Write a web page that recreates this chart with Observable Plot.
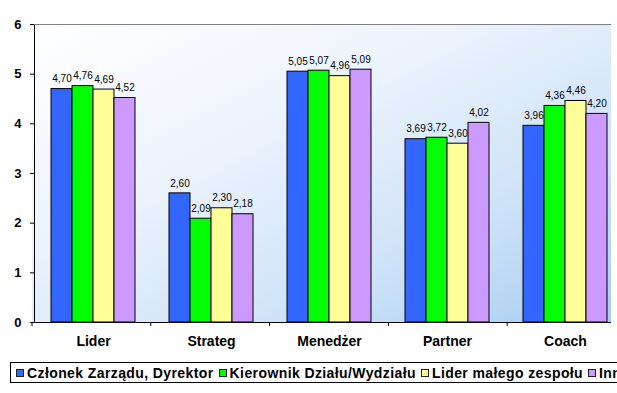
<!DOCTYPE html>
<html>
<head>
<meta charset="utf-8">
<script src="https://cdn.jsdelivr.net/npm/d3@7"></script>
<script src="https://cdn.jsdelivr.net/npm/@observablehq/plot@0.6"></script>
<style>
  html, body { margin: 0; padding: 0; background: #fff; overflow: hidden; }
  #wrap { position: relative; width: 617px; height: 393px; overflow: hidden; font-family: "Liberation Sans", Arial, sans-serif; }
  #bg { position: absolute; left: 32px; top: 24px; width: 579px; height: 298px;
        background: linear-gradient(to bottom right, #ffffff 0%, #eef4fc 35%, #cfe3f8 70%, #a7cdf1 100%); }
  #plotclip { position: absolute; left: 0; top: 0; width: 611px; height: 360px; overflow: hidden; }
  #plotclip svg { display: block; max-width: none !important; width: 626px; height: 355px; }
  #plotclip [aria-label^="y-axis"] text { font-size: 13px; font-weight: bold; fill: #000; }
  #plotclip [aria-label^="fx-axis"] text { font-size: 14px; font-weight: bold; fill: #000; }
  #legend { position: absolute; left: 10px; top: 362px; height: 21px; width: 700px; box-sizing: border-box;
            border: 1px solid #000; background: #fff; display: flex; align-items: center; padding-left: 5px;
            font-weight: bold; font-size: 14px; letter-spacing: 0.4px; white-space: nowrap; color: #000; }
  .sw { display: inline-block; width: 8px; height: 8px; box-sizing: border-box; border: 1px solid #222; margin-right: 3px; }
  .it { display: inline-flex; align-items: center; margin-right: 5px; }
</style>
</head>
<body>
<div id="wrap">
  <div id="bg"></div>
  <div id="plotclip"></div>
  <div id="legend"></div>
</div>
<script>
const categories = ["Lider", "Strateg", "Menedżer", "Partner", "Coach"];
const seriesNames = ["Członek Zarządu, Dyrektor", "Kierownik Działu/Wydziału", "Lider małego zespołu", "Inne"];
const czlonekZarzadu = [4.70, 2.60, 5.05, 3.69, 3.96];
const kierownikDzialu = [4.76, 2.09, 5.07, 3.72, 4.36];
const liderMalegoZespolu = [4.69, 2.30, 4.96, 3.60, 4.46];
const inne = [4.52, 2.18, 5.09, 4.02, 4.20];
const seriesColors = ["#3366ff", "#00ff00", "#ffff99", "#cc99ff"];
const yTicks = [0, 1, 2, 3, 4, 5, 6];

const seriesValues = [czlonekZarzadu, kierownikDzialu, liderMalegoZespolu, inne];
const data = [];
categories.forEach((c, i) => {
  seriesNames.forEach((s, j) => {
    data.push({category: c, series: s, value: seriesValues[j][i]});
  });
});
const fmt = v => v.toFixed(2).replace(".", ",");

const chart = Plot.plot({
  width: 626,
  height: 355,
  marginLeft: 32,
  marginRight: 0,
  marginTop: 24,
  marginBottom: 33,
  style: {background: "transparent", overflow: "visible", maxWidth: "none", fontFamily: "Liberation Sans, Arial, sans-serif", fontSize: "10px", color: "#000"},
  fx: {domain: categories, padding: 0, axis: "bottom", tickSize: 0, tickPadding: 14, label: null},
  x: {domain: seriesNames, paddingInner: 0, paddingOuter: 0.75, axis: null},
  y: {domain: [0, 6], ticks: yTicks, tickFormat: d => String(d), tickSize: 4, tickPadding: 9, label: null, line: true},
  color: {domain: seriesNames, range: seriesColors},
  marks: [
    Plot.ruleY([6], {stroke: "#808080", strokeWidth: 1.2}),
    Plot.barY(data, {fx: "category", x: "series", y: "value", fill: "series", stroke: "#000", strokeWidth: 1}),
    Plot.ruleY([0], {stroke: "#000", strokeWidth: 1}),
    Plot.text(data, {fx: "category", x: "series", y: "value", text: d => fmt(d.value), dy: -10, fontSize: 10, fill: "#000"})
  ]
});
document.getElementById("plotclip").appendChild(chart);

// category boundary ticks on the horizontal axis
try {
  const fxS = chart.scale("fx");
  const yS = chart.scale("y");
  const band = d3.scaleBand().domain(fxS.domain).range(fxS.range).paddingInner(0).paddingOuter(0);
  const ys = d3.scaleLinear().domain(yS.domain).range(yS.range);
  const y0 = ys(0);
  const xs = categories.map(c => band(c)).concat([band(categories[categories.length - 1]) + band.bandwidth()]);
  const svg = d3.select(chart.tagName.toLowerCase() === "svg" ? chart : chart.querySelector("svg"));
  svg.append("g").selectAll("line").data(xs).join("line")
    .attr("x1", d => d).attr("x2", d => d)
    .attr("y1", y0).attr("y2", y0 + 4)
    .attr("stroke", "#000").attr("stroke-width", 1);
} catch (e) { console.error(e); }

// legend
const legend = d3.select("#legend");
seriesNames.forEach((s, i) => {
  const it = legend.append("span").attr("class", "it");
  it.append("span").attr("class", "sw").style("background", seriesColors[i]);
  it.append("span").text(s);
});
</script>
</body>
</html>
